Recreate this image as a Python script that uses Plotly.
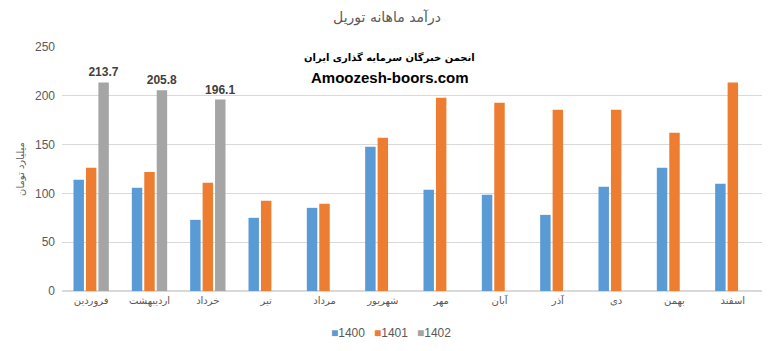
import plotly.graph_objects as go

months = ["فروردین", "اردیبهشت", "خرداد", "تیر", "مرداد", "شهریور",
          "مهر", "آبان", "آذر", "دی", "بهمن", "اسفند"]
v1400 = [114, 105.7, 72.9, 75, 85.2, 147.8, 103.7, 98.6, 78, 106.8, 126.3, 109.9]
v1401 = [126.3, 122, 110.9, 92.4, 89.3, 157, 198, 193, 185.8, 185.8, 162.2, 213.5]
v1402 = [213.7, 205.8, 196.1, None, None, None, None, None, None, None, None, None]

series_names = ["1400", "1401", "1402"]
colors = ["#5b9bd5", "#ed7d31", "#a5a5a5"]

title_text = "درآمد ماهانه توریل"
ytitle_text = "میلیارد تومان"
wm_line1 = "انجمن خبرگان سرمایه گذاری ایران"
wm_line2 = "Amoozesh-boors.com"

fig = go.Figure()
for name, vals, col in zip(series_names, [v1400, v1401, v1402], colors):
    kw = {}
    if name == "1402":
        kw = dict(text=[("%.1f" % v) if v is not None else "" for v in vals],
                  textposition="outside", constraintext="none",
                  textfont=dict(family="Liberation Sans, Arial", size=12, color="#404040"),
                  texttemplate="<b>%{text}</b>", cliponaxis=False)
    fig.add_trace(go.Bar(x=months, y=vals, name=name, marker_color=col,
                         marker_line_width=0, showlegend=False, **kw))

# legend drawn as text entries (colored square + series name)
legend_x = [0.381, 0.443, 0.504]
legend_ann = [
    dict(text="<span style='color:%s'>■</span>%s" % (c, n), xref="paper", yref="paper",
         x=lx, y=-0.172, xanchor="left", yanchor="middle", showarrow=False,
         font=dict(family="Liberation Sans, Arial", size=12, color="#595959"))
    for n, c, lx in zip(series_names, colors, legend_x)
]

fig.update_layout(
    width=774, height=351,
    margin=dict(l=62, r=12, t=47, b=60, autoexpand=False),
    paper_bgcolor="white", plot_bgcolor="white",
    barmode="group", bargap=0.36, bargroupgap=0.16,
    font=dict(family="DejaVu Sans, Liberation Sans, Arial", color="#595959", size=11),
    showlegend=False,
    title=dict(text=title_text, x=0.5, xanchor="center", y=0.95, yanchor="middle",
               font=dict(family="DejaVu Sans, Arial", size=14, color="#595959")),
    xaxis=dict(showgrid=False, showline=True, linecolor="#d9d9d9", linewidth=1,
               ticks="", tickfont=dict(family="DejaVu Sans", size=10, color="#595959")),
    yaxis=dict(range=[0, 250], dtick=50, showgrid=True, gridcolor="#d9d9d9",
               zeroline=True, zerolinecolor="#d9d9d9", showline=False,
               tickfont=dict(family="Liberation Sans, Arial", size=12, color="#595959"),
               ticklabelstandoff=6,
               title=dict(text=ytitle_text, standoff=8,
                          font=dict(family="DejaVu Sans", size=10, color="#595959"))),
    annotations=[
        dict(text="<b>" + wm_line1 + "</b>", xref="paper", yref="paper", x=0.468, y=0.955,
             xanchor="center", yanchor="middle",
             showarrow=False, font=dict(family="DejaVu Sans", size=10, color="black")),
        dict(text="<b>" + wm_line2 + "</b>", xref="paper", yref="paper", x=0.468, y=0.877,
             xanchor="center", yanchor="middle",
             showarrow=False, font=dict(family="Liberation Sans, Arial", size=15, color="black")),
    ] + legend_ann,
)

fig.write_html("out.html")
